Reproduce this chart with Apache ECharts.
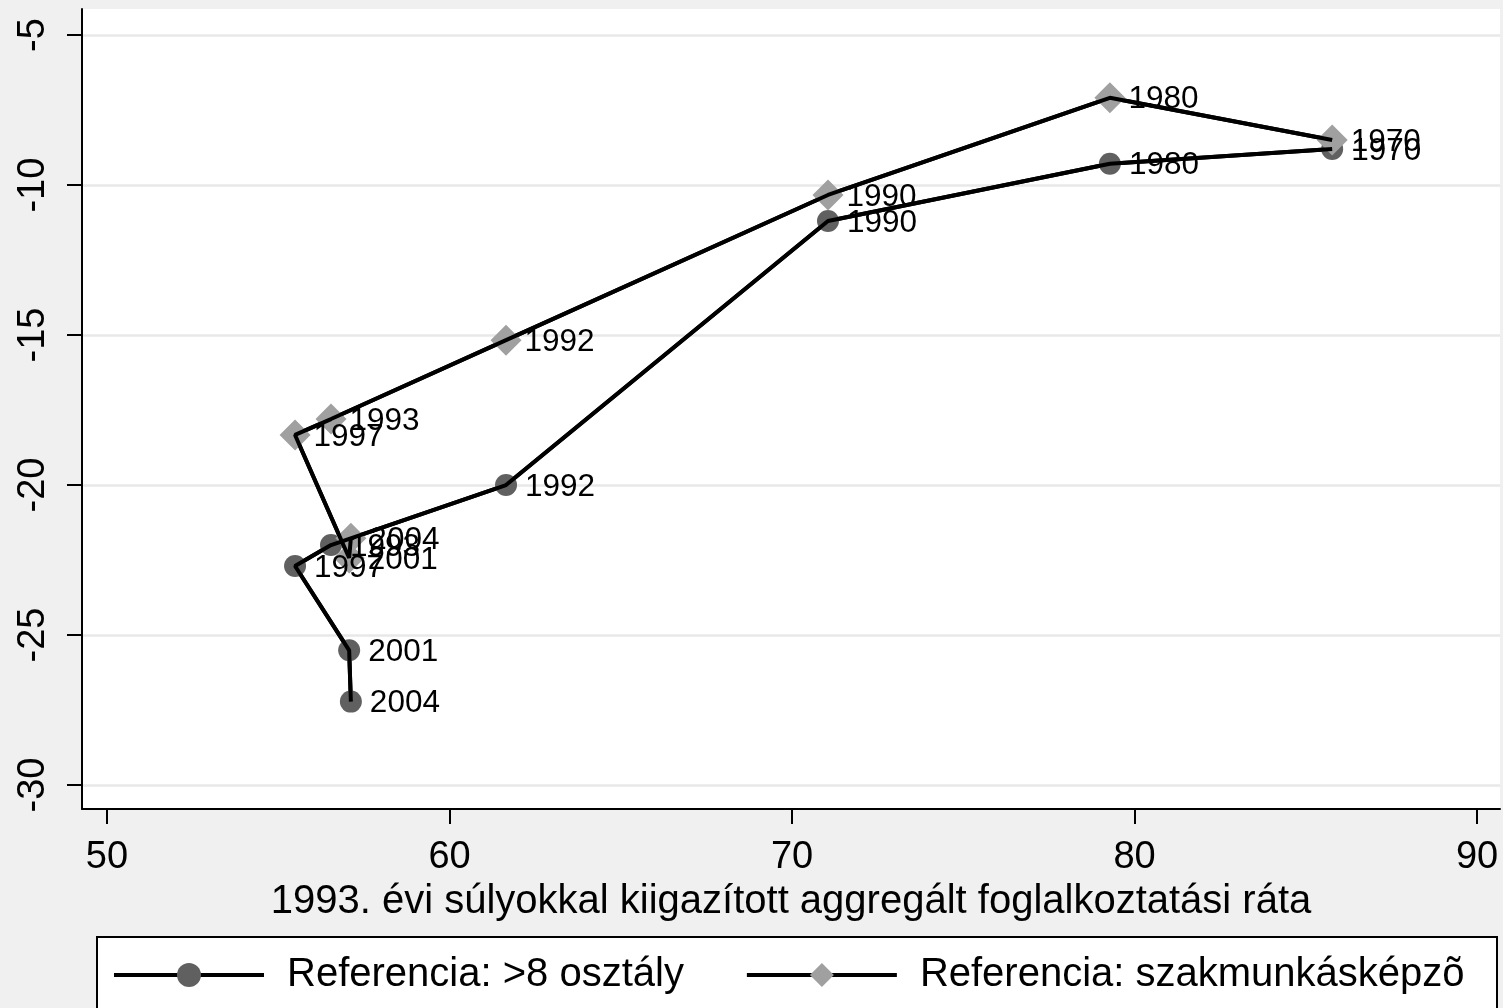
<!DOCTYPE html>
<html>
<head>
<meta charset="utf-8">
<script src="https://cdn.jsdelivr.net/npm/echarts@6/dist/echarts.min.js"></script>
<style>
    html, body { margin: 0; padding: 0; background: #f0f0f0; }
    #chart { width: 1503px; height: 1008px; }
</style>
</head>
<body>
<div id="chart"></div>
<script>
    // évek és értékek (leolvasva)
    var years = [1970, 1980, 1990, 1992, 1993, 1997, 2001, 2004];
    var xRate = [85.77, 79.28, 71.05, 61.65, 56.54, 55.49, 57.07, 57.12];
    var yOsztaly = [-8.8, -9.29, -11.2, -20.0, -22.0, -22.7, -25.51, -27.22];
    var ySzakmunkas = [-8.5, -7.09, -10.33, -15.17, -17.8, -18.33, -22.43, -21.77];
    var xTicks = [50, 60, 70, 80, 90];
    var yTicks = [-30, -25, -20, -15, -10, -5];
    var names = ['Referencia: >8 osztály', 'Referencia: szakmunkásképzõ'];

    var font = '"Liberation Sans", Arial, sans-serif';

    function toPoints(ys) {
        var res = [];
        for (var i = 0; i < years.length; i++) {
            res.push({ value: [xRate[i], ys[i]], name: String(years[i]) });
        }
        return res;
    }

    function markerSeries(name, ys, symbol, size, color, dist) {
        return {
            name: name,
            type: 'line',
            data: toPoints(ys),
            symbol: symbol,
            symbolSize: size,
            showAllSymbol: true,
            z: 2,
            itemStyle: { color: color },
            lineStyle: { color: '#000', width: 4 },
            label: {
                show: true,
                position: 'right',
                distance: dist,
                offset: [0, 2],
                formatter: function (p) { return p.name; },
                color: '#000',
                fontSize: 31.5,
                fontFamily: font
            },
            emphasis: { disabled: true },
            animation: false
        };
    }

    // vonal a jelölők fölött (Stata rajzolási sorrend)
    function lineOnTop(ys) {
        return {
            type: 'line',
            data: toPoints(ys),
            showSymbol: false,
            z: 4,
            lineStyle: { color: '#000', width: 4 },
            emphasis: { disabled: true },
            silent: true,
            animation: false
        };
    }

    var chart = echarts.init(document.getElementById('chart'));
    var option = {
        backgroundColor: '#f0f0f0',
        textStyle: { fontFamily: font },
        grid: {
            left: 82,
            top: 9,
            right: 3,
            bottom: 199,
            show: true,
            backgroundColor: '#fff',
            borderWidth: 0
        },
        graphic: [{
            type: 'rect',
            shape: { x: 97, y: 937, width: 1400, height: 100 },
            style: { fill: '#fff', stroke: '#000', lineWidth: 2 },
            z: 0
        }],
        legend: {
            data: names,
            left: 112,
            top: 955,
            padding: 0,
            itemWidth: 150,
            itemHeight: 30,
            itemGap: 61,
            lineStyle: { width: 4 },
            textStyle: {
                fontSize: 40,
                color: '#000',
                fontFamily: font,
                padding: [0, 0, 0, 18]
            },
            selectedMode: false
        },
        xAxis: {
            type: 'value',
            min: 49.27,
            max: 90.67,
            name: '1993. évi súlyokkal kiigazított aggregált foglalkoztatási ráta',
            nameLocation: 'middle',
            nameGap: 62,
            nameTextStyle: { fontSize: 40, color: '#000', fontFamily: font },
            axisLine: { show: true, onZero: false, lineStyle: { color: '#000', width: 2 } },
            axisTick: { show: true, length: 15, customValues: xTicks, lineStyle: { color: '#000', width: 2 } },
            axisLabel: { customValues: xTicks, fontSize: 38, color: '#000', margin: 30, fontFamily: font },
            splitLine: { show: false }
        },
        yAxis: {
            type: 'value',
            min: -30.8,
            max: -4.13,
            axisLine: { show: true, onZero: false, lineStyle: { color: '#000', width: 2 } },
            axisTick: { show: true, length: 15, customValues: yTicks, lineStyle: { color: '#000', width: 2 } },
            axisLabel: { customValues: yTicks, rotate: 90, fontSize: 38, color: '#000', margin: 29, fontFamily: font },
            splitLine: { show: true, lineStyle: { color: '#e8e8e8', width: 2.5 } }
        },
        series: [
            markerSeries(names[0], yOsztaly, 'circle', 22, '#606060', 8),
            markerSeries(names[1], ySzakmunkas, 'diamond', 31, '#a0a0a0', 3),
            lineOnTop(yOsztaly),
            lineOnTop(ySzakmunkas)
        ]
    };
    chart.setOption(option);
</script>
</body>
</html>
